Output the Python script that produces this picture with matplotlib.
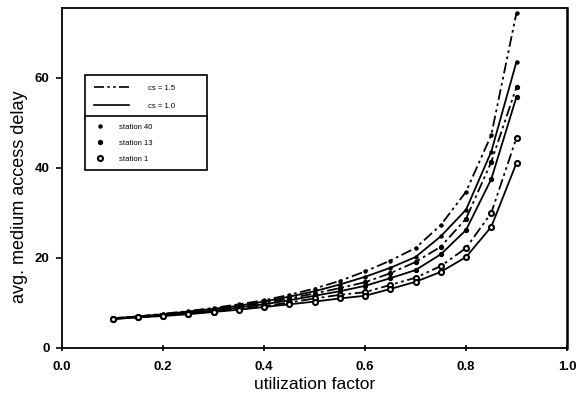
import matplotlib
matplotlib.use("Agg")
import matplotlib.pyplot as plt
from matplotlib.lines import Line2D

plt.rcParams['font.family'] = ['Liberation Sans', 'DejaVu Sans']

# utilization factor
util = [0.10, 0.15, 0.20, 0.25, 0.30, 0.35, 0.40, 0.45, 0.50,
        0.55, 0.60, 0.65, 0.70, 0.75, 0.80, 0.85, 0.90]

# avg. medium access delay, cs = 1.5
st40_cs15 = [6.6, 7.0, 7.6, 8.2, 8.9, 9.7, 10.6, 11.8, 13.2, 14.9, 17.0, 19.4, 22.2, 27.3, 34.7, 47.3, 74.5]
st13_cs15 = [6.5, 6.9, 7.4, 7.9, 8.5, 9.2, 10.0, 11.0, 12.1, 13.3, 14.6, 16.6, 19.1, 22.5, 28.7, 41.3, 58.0]
st1_cs15 = [6.5, 6.8, 7.2, 7.6, 8.1, 8.7, 9.3, 10.1, 11.0, 11.8, 12.4, 14.0, 15.6, 18.2, 22.2, 30.0, 46.7]

# avg. medium access delay, cs = 1.0
st40_cs10 = [6.6, 7.0, 7.5, 8.1, 8.7, 9.4, 10.3, 11.4, 12.6, 14.1, 15.8, 17.8, 20.2, 24.8, 30.7, 43.6, 63.6]
st13_cs10 = [6.5, 6.9, 7.3, 7.8, 8.3, 9.0, 9.7, 10.6, 11.6, 12.6, 13.8, 15.5, 17.3, 20.8, 26.2, 37.5, 55.8]
st1_cs10 = [6.4, 6.8, 7.1, 7.5, 8.0, 8.5, 9.1, 9.7, 10.3, 11.0, 11.6, 13.1, 14.7, 16.9, 20.2, 26.9, 41.1]

DASHDOT = (0, (6, 2, 1.5, 2, 1.5, 2))
markers = {'40': dict(marker='o', ms=2.2), '13': dict(marker='o', ms=2.8),
           '1': dict(marker='o', ms=3.6, mfc='white', mew=1.5)}

fig = plt.figure(figsize=(5.86, 4.03), dpi=100)
ax = fig.add_axes([0.1058, 0.1365, 0.8618, 0.8435])

series = [(st40_cs15, DASHDOT, '40'), (st40_cs10, '-', '40'),
          (st13_cs15, DASHDOT, '13'), (st13_cs10, '-', '13'),
          (st1_cs15, DASHDOT, '1'), (st1_cs10, '-', '1')]
for vals, ls, st in series:
    ax.plot(util, vals, color='black', linestyle=ls, linewidth=1.3, **markers[st])

ax.set_xlim(0, 1.0)
ax.set_ylim(0, 75.5)
ax.set_xticks([0.0, 0.2, 0.4, 0.6, 0.8, 1.0])
ax.set_yticks([0, 20, 40, 60])
ax.tick_params(axis='x', direction='inout', length=5, width=1.2, labelsize=9.5, pad=7)
ax.tick_params(axis='y', direction='out', length=4, width=1.2, labelsize=9.5, pad=5)
for lab in ax.get_xticklabels() + ax.get_yticklabels():
    lab.set_fontweight('bold')
for sp in ax.spines.values():
    sp.set_linewidth(1.3)
ax.spines['right'].set_linewidth(1.8)

ax.set_xlabel('utilization factor', fontsize=12.5, labelpad=3)
ax.set_ylabel('avg. medium access delay', fontsize=13)
ax.yaxis.set_label_coords(-0.068, 0.445)

# legend: line styles
h1 = [Line2D([], [], color='black', linestyle=DASHDOT, linewidth=1.2),
      Line2D([], [], color='black', linestyle='-', linewidth=1.2)]
leg1 = ax.legend(h1, ['cs = 1.5', 'cs = 1.0'], loc='upper left', mode='expand',
                 bbox_to_anchor=(0.0455, 0.0, 0.2415, 0.803), borderaxespad=0,
                 fontsize=5.5, fancybox=False, edgecolor='black', framealpha=1,
                 handlelength=4.5, handletextpad=2.5, borderpad=1.2, labelspacing=1.4)
leg1.get_frame().set_linewidth(1.2)
ax.add_artist(leg1)

# legend: stations
h2 = [Line2D([], [], color='black', linestyle='none', **markers['40']),
      Line2D([], [], color='black', linestyle='none', **markers['13']),
      Line2D([], [], color='black', linestyle='none', **markers['1'])]
leg2 = ax.legend(h2, ['station 40', 'station 13', 'station 1'], loc='upper left', mode='expand',
                 bbox_to_anchor=(0.0455, 0.0, 0.2415, 0.682), borderaxespad=0,
                 fontsize=5.5, fancybox=False, edgecolor='black', framealpha=1,
                 handlelength=2, handletextpad=1.5, borderpad=1.0, labelspacing=1.1)
leg2.get_frame().set_linewidth(1.2)

fig.savefig('out.png', dpi=100)
